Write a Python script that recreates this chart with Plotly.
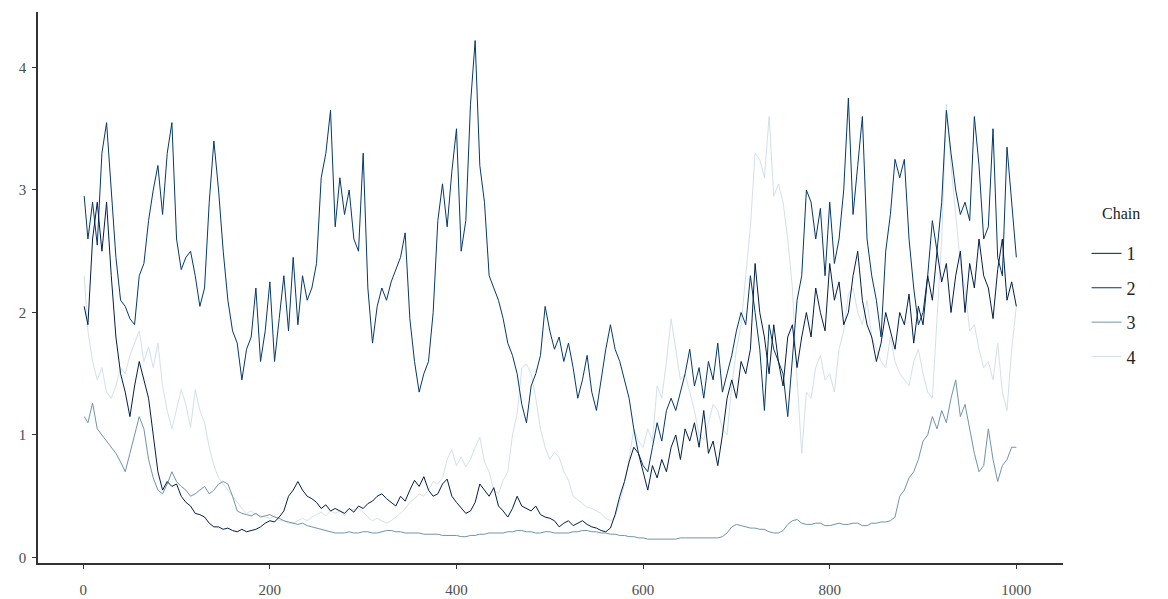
import plotly.graph_objects as go

iterations = [1] + list(range(5, 1001, 5))

chain1 = [2.05, 1.9, 2.6, 2.9, 2.5, 2.9, 2.3, 1.8, 1.5, 1.35,
          1.15, 1.4, 1.6, 1.45, 1.3, 1.0, 0.7, 0.55, 0.62, 0.58,
          0.6, 0.5, 0.45, 0.42, 0.36, 0.35, 0.33, 0.28, 0.25, 0.25,
          0.23, 0.24, 0.22, 0.21, 0.23, 0.21, 0.22, 0.23, 0.25, 0.28,
          0.3, 0.29, 0.33, 0.38, 0.5, 0.55, 0.62, 0.55, 0.5, 0.48,
          0.45, 0.4, 0.43, 0.38, 0.4, 0.38, 0.36, 0.4, 0.37, 0.42,
          0.4, 0.44, 0.46, 0.5, 0.52, 0.48, 0.45, 0.42, 0.5, 0.46,
          0.55, 0.63, 0.58, 0.66, 0.55, 0.5, 0.52, 0.6, 0.64, 0.5,
          0.45, 0.4, 0.36, 0.38, 0.45, 0.6, 0.55, 0.5, 0.57, 0.42,
          0.38, 0.33, 0.4, 0.5, 0.42, 0.4, 0.38, 0.42, 0.35, 0.33,
          0.32, 0.3, 0.25, 0.28, 0.3, 0.26, 0.28, 0.3, 0.27, 0.25,
          0.24, 0.22, 0.21, 0.24, 0.35, 0.5, 0.62, 0.78, 0.9, 0.85,
          0.7, 0.55, 0.75, 0.65, 0.8, 0.7, 0.9, 1.0, 0.8, 1.05,
          0.95, 1.1, 0.9, 1.2, 0.85, 0.95, 0.75, 1.0, 1.3, 1.45,
          1.3, 1.6, 1.5, 1.7, 2.4, 2.0, 1.8, 1.5, 1.9, 1.6,
          1.4, 1.8, 1.9, 1.55, 1.8, 2.0, 1.8, 2.2, 2.0, 1.85,
          2.4, 2.1, 2.25, 1.9, 2.0, 2.3, 2.5, 2.1, 1.9, 1.8,
          1.6, 1.75, 2.0, 1.85, 1.7, 2.0, 1.9, 2.15, 1.75, 2.05,
          1.9, 2.3, 2.1, 2.5, 2.25, 2.4, 2.0, 2.3, 2.5, 2.0,
          2.4, 2.2, 2.6, 2.3, 2.2, 1.95, 2.35, 2.6, 2.1, 2.25,
          2.05]

chain2 = [2.95, 2.6, 2.9, 2.55, 3.3, 3.55, 3.0, 2.45, 2.1, 2.05,
          1.95, 1.9, 2.3, 2.4, 2.75, 3.0, 3.2, 2.8, 3.3, 3.55,
          2.6, 2.35, 2.45, 2.5, 2.3, 2.05, 2.2, 2.9, 3.4, 3.0,
          2.5, 2.1, 1.85, 1.75, 1.45, 1.7, 1.8, 2.2, 1.6, 1.85,
          2.25, 1.6, 1.95, 2.3, 1.85, 2.45, 1.9, 2.3, 2.1, 2.2,
          2.4, 3.1, 3.3, 3.65, 2.7, 3.1, 2.8, 3.0, 2.6, 2.5,
          3.3, 2.2, 1.75, 2.05, 2.2, 2.1, 2.25, 2.35, 2.45, 2.65,
          1.95, 1.6, 1.35, 1.5, 1.6, 2.0, 2.75, 3.05, 2.7, 3.15,
          3.5, 2.5, 2.75, 3.7, 4.22, 3.2, 2.9, 2.3, 2.2, 2.1,
          1.95, 1.75, 1.65, 1.5, 1.25, 1.1, 1.4, 1.5, 1.65, 2.05,
          1.85, 1.7, 1.8, 1.6, 1.75, 1.55, 1.3, 1.45, 1.65, 1.35,
          1.2, 1.45, 1.7, 1.9, 1.7, 1.6, 1.45, 1.3, 1.05, 0.85,
          0.75, 0.7, 0.9, 1.1, 0.95, 1.2, 1.3, 1.2, 1.35, 1.5,
          1.7, 1.4, 1.55, 1.3, 1.6, 1.45, 1.75, 1.35, 1.5, 1.65,
          1.85, 2.0, 1.9, 2.3, 2.0, 1.7, 1.2, 1.9, 1.7, 1.6,
          1.5, 1.15, 1.6, 2.1, 2.3, 3.0, 2.9, 2.6, 2.85, 2.3,
          2.9, 2.4, 2.6, 3.0, 3.75, 2.8, 3.2, 3.6, 2.6, 2.3,
          2.1, 1.8, 2.5, 2.8, 3.25, 3.1, 3.25, 2.6, 2.2, 1.9,
          2.0, 2.3, 2.75, 2.5, 2.9, 3.65, 3.3, 3.0, 2.8, 2.9,
          2.75, 3.6, 3.2, 2.6, 2.7, 3.5, 2.45, 2.3, 3.35, 2.9,
          2.45]

chain3 = [1.15, 1.1, 1.26, 1.05, 1.0, 0.95, 0.9, 0.85, 0.78, 0.7,
          0.85, 1.0, 1.15, 1.05, 0.8, 0.65, 0.55, 0.52, 0.6, 0.7,
          0.62, 0.58, 0.55, 0.5, 0.52, 0.55, 0.58, 0.52, 0.55, 0.6,
          0.62, 0.6, 0.5, 0.38, 0.36, 0.35, 0.34, 0.36, 0.33, 0.34,
          0.35, 0.33, 0.32, 0.3, 0.29, 0.28, 0.27, 0.28, 0.26, 0.25,
          0.24, 0.23, 0.22, 0.21, 0.2, 0.2, 0.2, 0.21, 0.2, 0.2,
          0.21, 0.21, 0.2, 0.2, 0.21, 0.22, 0.22, 0.21, 0.21, 0.2,
          0.2, 0.2, 0.2, 0.19, 0.19, 0.19, 0.19, 0.18, 0.18, 0.18,
          0.18, 0.17, 0.17, 0.18, 0.18, 0.19, 0.19, 0.2, 0.2, 0.2,
          0.2, 0.21, 0.21, 0.22, 0.22, 0.21, 0.21, 0.2, 0.2, 0.21,
          0.21, 0.2, 0.2, 0.2, 0.2, 0.21, 0.21, 0.22, 0.22, 0.21,
          0.21, 0.2, 0.2, 0.19, 0.19, 0.18, 0.18, 0.17, 0.17, 0.16,
          0.16, 0.15, 0.15, 0.15, 0.15, 0.15, 0.15, 0.15, 0.16, 0.16,
          0.16, 0.16, 0.16, 0.16, 0.16, 0.16, 0.16, 0.17, 0.2, 0.25,
          0.27, 0.26, 0.25, 0.24, 0.24, 0.23, 0.23, 0.21, 0.2, 0.2,
          0.22, 0.27, 0.3, 0.31, 0.28, 0.27, 0.27, 0.28, 0.28, 0.26,
          0.26, 0.27, 0.28, 0.27, 0.27, 0.28, 0.28, 0.26, 0.26, 0.28,
          0.28, 0.29, 0.29, 0.3, 0.33, 0.5, 0.55, 0.65, 0.7, 0.8,
          0.95, 1.0, 1.15, 1.05, 1.2, 1.1, 1.3, 1.45, 1.15, 1.25,
          1.05, 0.85, 0.7, 0.75, 1.05, 0.8, 0.62, 0.75, 0.8, 0.9,
          0.9]

chain4 = [2.3, 1.85, 1.6, 1.45, 1.55, 1.35, 1.3, 1.4, 1.55, 1.5,
          1.65, 1.75, 1.85, 1.6, 1.72, 1.55, 1.75, 1.4, 1.2, 1.05,
          1.2, 1.37, 1.25, 1.06, 1.37, 1.2, 1.1, 0.9, 0.75, 0.65,
          0.6, 0.55, 0.5, 0.45, 0.4, 0.36, 0.38, 0.35, 0.34, 0.33,
          0.32, 0.34, 0.3, 0.3, 0.28, 0.28, 0.3, 0.32, 0.3, 0.33,
          0.35, 0.37, 0.34, 0.38, 0.36, 0.38, 0.34, 0.4, 0.39, 0.4,
          0.37, 0.33, 0.3, 0.32, 0.3, 0.28, 0.3, 0.33, 0.36, 0.4,
          0.45, 0.48, 0.52, 0.5, 0.55, 0.62, 0.6, 0.65, 0.8, 0.88,
          0.75, 0.82, 0.74, 0.8, 0.9, 0.98, 0.78, 0.7, 0.55, 0.52,
          0.63, 0.7, 1.0, 1.17, 1.55, 1.58, 1.5, 1.3, 1.05, 0.9,
          0.8, 0.86, 0.82, 0.7, 0.63, 0.5, 0.47, 0.44, 0.41, 0.4,
          0.38, 0.36, 0.32, 0.3, 0.33, 0.45, 0.6, 0.8, 1.05, 0.95,
          0.9, 1.05, 0.95, 1.4, 1.3, 1.6, 1.95, 1.7, 1.45, 1.5,
          1.35, 1.2, 1.0, 0.96, 1.1, 1.25, 1.2, 1.05, 1.0, 1.4,
          1.7, 1.9, 2.3, 2.7, 3.3, 3.25, 3.1, 3.6, 2.95, 3.05,
          2.9, 2.6, 2.2, 1.45, 0.85, 1.35, 1.3, 1.55, 1.65, 1.45,
          1.5, 1.35, 1.7, 1.85, 2.15, 2.2, 2.0, 1.9, 2.1, 1.8,
          1.7, 1.6, 1.55, 1.8, 1.6, 1.5, 1.45, 1.4, 1.6, 1.7,
          1.5, 1.35, 1.3, 2.0, 2.6, 3.7, 3.2, 2.8, 2.4, 2.2,
          1.85, 1.9, 1.7, 1.55, 1.6, 1.45, 1.75, 1.35, 1.2, 1.7,
          2.05]

chain_names = ["1", "2", "3", "4"]
chain_values = [chain1, chain2, chain3, chain4]
chain_colors = ["#011f4b", "#03396c", "#6f94ab", "#d1e1ec"]

x_ticks = [0, 200, 400, 600, 800, 1000]
y_ticks = [0, 1, 2, 3, 4]

SERIF = "Liberation Serif, Times New Roman, serif"

fig = go.Figure()
# draw light chains first so the dark ones lie on top; legend keeps 1..4
for idx in [3, 2, 1, 0]:
    fig.add_trace(go.Scatter(
        x=iterations, y=chain_values[idx], mode="lines",
        name=chain_names[idx],
        line=dict(color=chain_colors[idx], width=1),
        legendrank=idx + 1,
        legendgroup=chain_names[idx],
        hoverinfo="skip",
    ))

axis_common = dict(
    showgrid=False, zeroline=False, automargin=False,
    showline=True, linecolor="#333333", linewidth=1.5,
    ticks="outside", ticklen=4, tickwidth=1, tickcolor="#333333",
    tickfont=dict(family=SERIF, size=15, color="#4d4d4d"),
)

# page body has an 8px default margin, so the figure is 8px smaller than the window
fig.update_layout(
    template="none",
    width=1160, height=591,
    margin=dict(l=30, r=105, t=4, b=36, pad=0),
    paper_bgcolor="white", plot_bgcolor="white",
    showlegend=True,
    legend=dict(
        font=dict(family=SERIF, size=18, color="#222222"),
        x=1.023, xanchor="left", y=0.595, yanchor="top",
        traceorder="grouped", tracegroupgap=8,
        itemwidth=30,
        bgcolor="rgba(0,0,0,0)",
    ),
    annotations=[dict(
        text="Chain", xref="paper", yref="paper",
        x=1.036, xanchor="left", y=0.635, yanchor="middle",
        showarrow=False, font=dict(family=SERIF, size=16, color="#222222"),
    )],
    xaxis=dict(range=[-48.5, 1050], tickvals=x_ticks, ticklabelstandoff=8,
               ticktext=[str(v) for v in x_ticks], **axis_common),
    yaxis=dict(range=[-0.045, 4.453], tickvals=y_ticks, ticklabelstandoff=3,
               ticktext=[str(v) for v in y_ticks], **axis_common),
)

fig.write_html("out.html")
